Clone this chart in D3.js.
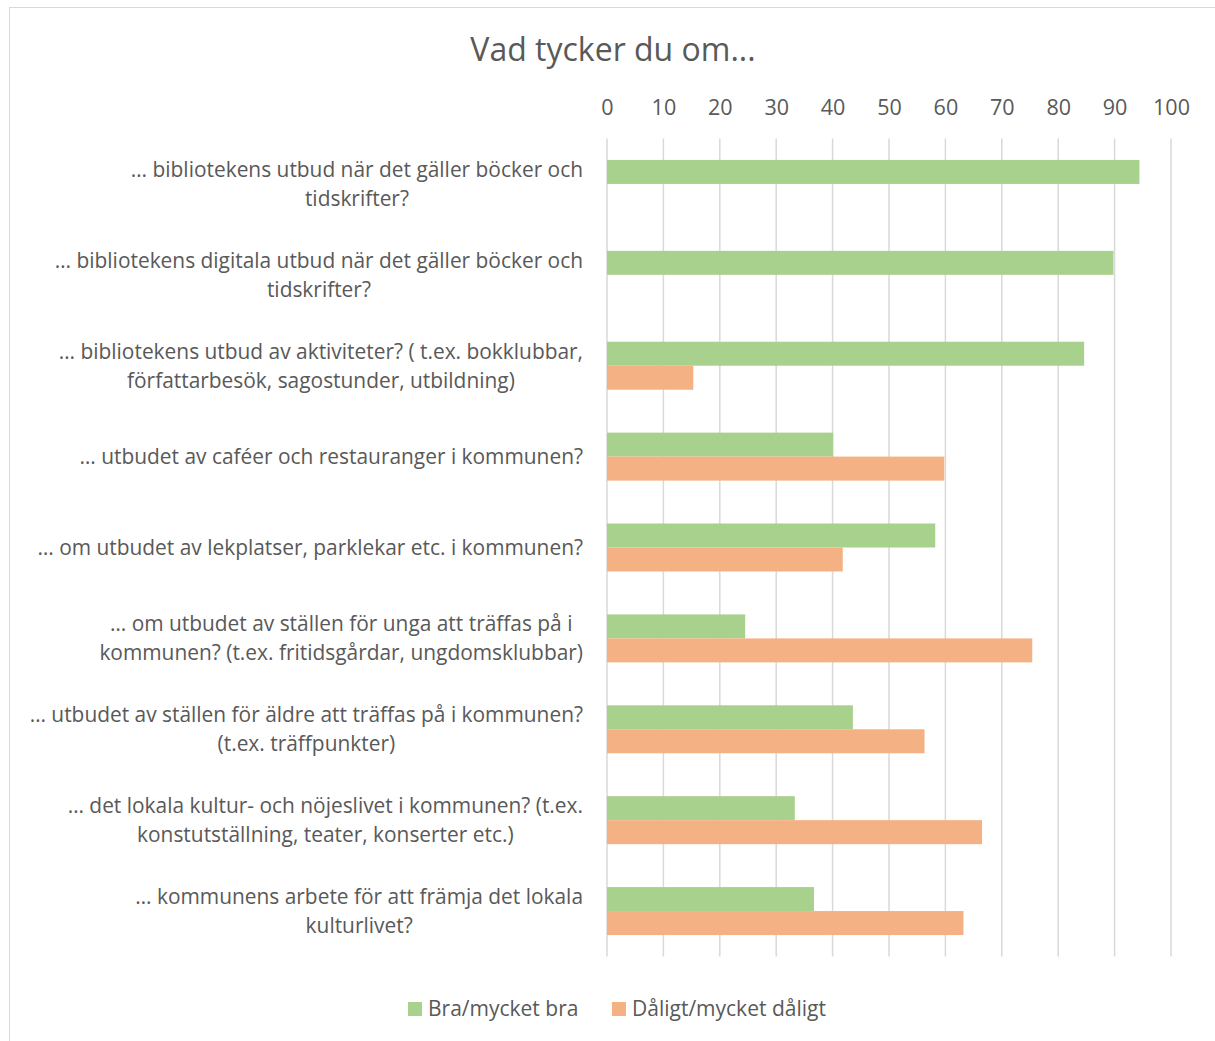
<!DOCTYPE html>
<html>
<head>
<meta charset="utf-8">
<script src="https://cdn.jsdelivr.net/npm/d3@7"></script>
<style>
  html, body { margin: 0; padding: 0; background: #fff; }
  svg { display: block; font-family: "Open Sans", "Noto Sans", sans-serif; }
</style>
</head>
<body>
<svg id="chart" width="1215" height="1041"></svg>
<script>
const title = "Vad tycker du om...";
const categories = [
  "… bibliotekens utbud när det gäller böcker och\ntidskrifter?",
  "… bibliotekens digitala utbud när det gäller böcker och\ntidskrifter?",
  "… bibliotekens utbud av aktiviteter? ( t.ex. bokklubbar,\nförfattarbesök, sagostunder, utbildning)",
  "… utbudet av caféer och restauranger i kommunen?",
  "… om utbudet av lekplatser, parklekar etc. i kommunen?",
  "… om utbudet av ställen för unga att träffas på i\nkommunen? (t.ex. fritidsgårdar, ungdomsklubbar)",
  "… utbudet av ställen för äldre att träffas på i kommunen?\n(t.ex. träffpunkter)",
  "… det lokala kultur- och nöjeslivet i kommunen? (t.ex.\nkonstutställning, teater, konserter etc.)",
  "… kommunens arbete för att främja det lokala\nkulturlivet?"
];
const seriesNames = ["Bra/mycket bra", "Dåligt/mycket dåligt"];
const braValues = [94.4, 89.8, 84.6, 40.1, 58.2, 24.5, 43.6, 33.3, 36.7];
const daligtValues = [null, null, 15.3, 59.8, 41.8, 75.4, 56.3, 66.5, 63.2];
const tickValues = [0, 10, 20, 30, 40, 50, 60, 70, 80, 90, 100];
const colors = ["#a9d18e", "#f4b183"];

const svg = d3.select("#chart");
const textColor = "#595959";

// frame
svg.append("rect").attr("x", 9.5).attr("y", 7.5).attr("width", 1220).attr("height", 1040)
  .attr("fill", "#fff").attr("stroke", "#d9d9d9").attr("stroke-width", 1);

const x = d3.scaleLinear().domain([0, 100]).range([607, 1171]);
const y = d3.scaleBand().domain(d3.range(categories.length)).range([138.5, 956.5])
  .paddingInner(0.472).paddingOuter(0.236);
const ySub = d3.scaleBand().domain([0, 1]).range([0, y.bandwidth()]);

// title
svg.append("text").attr("x", 613).attr("y", 61).attr("text-anchor", "middle")
  .attr("fill", textColor).style("font-size", "32px").text(title);

// gridlines
svg.append("g").selectAll("line").data(tickValues).join("line")
  .attr("x1", d => x(d)).attr("x2", d => x(d))
  .attr("y1", 138.5).attr("y2", 956.5)
  .attr("stroke", "#d9d9d9").attr("stroke-width", 1.5);

// top axis
const axis = d3.axisTop(x).tickValues(tickValues).tickSize(0).tickPadding(0);
const ag = svg.append("g").attr("transform", "translate(0,115)").call(axis);
ag.select(".domain").remove();
ag.selectAll("text").attr("fill", textColor).style("font-size", "21.5px")
  .style("font-family", "'Open Sans', sans-serif");

// bars
const seriesData = [braValues, daligtValues];
seriesData.forEach((vals, s) => {
  svg.append("g").selectAll("rect")
    .data(vals.map((v, i) => ({ v, i })).filter(d => d.v != null))
    .join("rect")
    .attr("x", x(0))
    .attr("y", d => y(d.i) + ySub(s))
    .attr("width", d => x(d.v) - x(0))
    .attr("height", ySub.bandwidth())
    .attr("fill", colors[s]);
});

// category labels
const labelRight = 583;
const lineH = 29;
const lg = svg.append("g").style("font-size", "20.9px").attr("fill", textColor);
categories.forEach((c, i) => {
  const lines = c.split("\n");
  const g = lg.append("g");
  const cy = y(i) + y.bandwidth() / 2;
  const texts = lines.map((ln, k) =>
    g.append("text").attr("text-anchor", "middle")
      .attr("y", cy + (k - (lines.length - 1) / 2) * lineH)
      .attr("dy", "0.35em").text(ln));
  const maxW = d3.max(texts, t => t.node().getComputedTextLength());
  texts.forEach(t => t.attr("x", labelRight - maxW / 2));
});

// legend
const legend = svg.append("g").style("font-size", "21px");
const legendX = [408, 612];
seriesNames.forEach((n, s) => {
  legend.append("rect").attr("x", legendX[s]).attr("y", 1002).attr("width", 14).attr("height", 14)
    .attr("fill", colors[s]);
  legend.append("text").attr("x", legendX[s] + 20).attr("y", 1009).attr("dy", "0.35em")
    .attr("fill", textColor).text(n);
});
</script>
</body>
</html>
